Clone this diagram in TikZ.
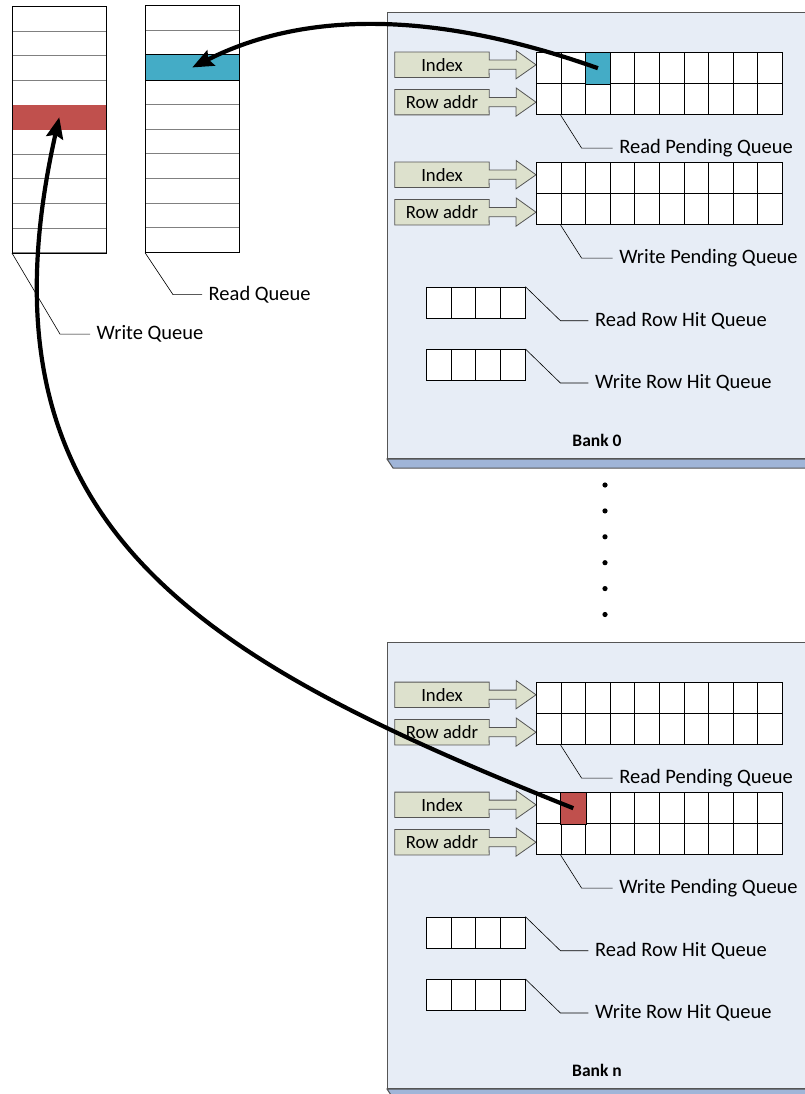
\documentclass[tikz,border=0pt]{standalone}
\usepackage{fontspec}
\setmainfont{Carlito}
\usetikzlibrary{positioning,arrows.meta}
\definecolor{bankfill}{RGB}{231,237,246}
\definecolor{bankedge}{RGB}{85,85,85}
\definecolor{bankside}{RGB}{160,181,216}
\definecolor{boxfill}{RGB}{221,225,205}
\definecolor{hitblue}{RGB}{68,172,198}
\definecolor{hitred}{RGB}{192,80,77}
\pgfdeclarelayer{background}
\pgfsetlayers{background,main}
\tikzset{cell/.style={draw, fill=white, line width=0.8pt, minimum width=24.6pt, minimum height=31pt, inner sep=0pt, anchor=north west}, }
\tikzset{row cell/.style={draw=gray, fill=white, line width=0.8pt, minimum width=93.7pt, minimum height=24.63pt, inner sep=0pt, anchor=north west}, }
\tikzset{bank/.style={draw=bankedge, fill=bankfill, line width=1pt, minimum width=428pt, minimum height=446pt, inner sep=0pt, anchor=north west}, }
\tikzset{in box/.style={minimum width=94pt, minimum height=25pt, inner sep=0pt, font=\fontsize{18.7}{20}\selectfont}, }
\tikzset{block arrow/.style={draw=bankedge, fill=boxfill, line width=0.8pt, line join=miter}, }
\tikzset{q label/.style={anchor=west, inner sep=6.5pt, font=\fontsize{20.5}{22}\selectfont}, }
\tikzset{bank label/.style={font=\bfseries\fontsize{17.5}{19}\selectfont}, }
\tikzset{callout/.style={draw, line width=0.6pt}, }
\tikzset{move/.style={line width=4.2pt, -{Stealth[length=21pt, width=17pt, inset=3pt]}}, }
\tikzset{pend queue/.pic={\foreach \r in {0,1} \foreach \c in {0,...,9} \node[cell] (-\r-\c) at (\c*24.6, \r*31) {};}, }
\tikzset{hit queue/.pic={\foreach \c in {0,...,3} \node[cell] (-\c) at (\c*24.67, 0) {};}, }

\begin{document}
\begin{tikzpicture}[x=1pt, y=-1pt]
	\useasboundingbox (0,0) rectangle (805,1094);
	% write queue and read queue
	\foreach \i in {0,...,9} {
		\node[row cell] (wq-\i) at (12, 6+\i*24.63) {};
		\node[row cell] (rq-\i) at (145, 5.5+\i*24.63) {};
	}
	\fill[hitred] (wq-4.north west) rectangle (wq-4.south east);
	\fill[hitblue] (rq-2.north west) rectangle (rq-2.south east);
	\draw[line width=0.8pt] (wq-0.north west) rectangle (wq-9.south east);
	\draw[line width=0.8pt] (rq-0.north west) rectangle (rq-9.south east);
	\draw[line width=0.8pt] (rq-2.north west) rectangle (rq-2.south east);
	\coordinate (wq-elb) at ([shift={(48,81)}]wq-9.south west);
	\node[q label, right=30pt of wq-elb] (wq-lbl) {Write Queue};
	\draw[callout] (wq-9.south west) -- (wq-elb) -- (wq-lbl.west);
	\coordinate (rq-elb) at ([shift={(28,42)}]rq-9.south west);
	\node[q label, right=29pt of rq-elb] (rq-lbl) {Read Queue};
	\draw[callout] (rq-9.south west) -- (rq-elb) -- (rq-lbl.west);

	% banks
	\foreach \b/\oy in {0/0, n/630} {
		\begin{pgfonlayer}{background}
			\node[bank] (bank\b) at (387, 12+\oy) {};
			\draw[bankedge, fill=bankside, line width=1pt] (bank\b.south west) -- ++(6,9) -- ++(420,0) -- ++(0,-9) -- cycle;
		\end{pgfonlayer}
		\node[bank label] (bank\b-lbl) at (597, 440+\oy) {Bank \b};
		\foreach \q/\qy/\qname in {rp/0/Read Pending Queue, wp/110/Write Pending Queue} {
			\pic (\q\b) at (536, 52.3+\oy+\qy) {pend queue};
			\node[in box] (\q\b-idx) at (442, 64.8+\oy+\qy) {Index};
			\node[in box] (\q\b-row) at (442, 102.2+\oy+\qy) {Row addr};
			\begin{pgfonlayer}{background}
				\foreach \k/\r in {idx/0, row/1}
					\draw[block arrow] (\q\b-\k.north west) -- (\q\b-\k.north east) -- ++(0,8) -- ++(27,0) -- ++(0,-9.5)
						-- (\q\b-\r-0.west |- \q\b-\k.east) -- ++(-20,14) -- ++(0,-9.5) -- ++(-27,0)
						-- (\q\b-\k.south east) -- (\q\b-\k.south west) -- cycle;
			\end{pgfonlayer}
			\coordinate (\q\b-elb) at ([shift={(21,33)}]\q\b-1-1.south west);
			\node[q label, right=31pt of \q\b-elb] (\q\b-lbl) {\qname};
			\draw[callout] (\q\b-1-1.south west) -- (\q\b-elb) -- (\q\b-lbl.west);
		}
		\foreach \h/\hy/\hname in {rh/286.7/Read Row Hit Queue, wh/349/Write Row Hit Queue} {
			\pic (\h\b) at (426, \hy+\oy) {hit queue};
			\coordinate (\h\b-elb) at ([shift={(35,34)}]\h\b-3.north east);
			\node[q label, right=28pt of \h\b-elb] (\h\b-lbl) {\hname};
			\draw[callout] (\h\b-3.north east) -- (\h\b-elb) -- (\h\b-lbl.west);
		}
	}
	\fill[hitblue] (rp0-0-2.north west) rectangle (rp0-0-2.south east);
	\draw[line width=0.8pt] (rp0-0-2.north west) rectangle (rp0-0-2.south east);
	\fill[hitred] (wpn-0-1.north west) rectangle (wpn-0-1.south east);
	\draw[line width=0.8pt] (wpn-0-1.north west) rectangle (wpn-0-1.south east);

	% dots between the banks
	\foreach \d in {0,...,5}
		\fill (605, 485+\d*25.9) circle (2.6pt);

	% moves between the queues
	\draw[move] (rp0-0-2.center) .. controls (428,8) and (300,13) .. (rq-2.center);
	\draw[move] (wpn-0-1.center) .. controls (200,659) and (-33,528) .. (wq-4.center);
\end{tikzpicture}
\end{document}
